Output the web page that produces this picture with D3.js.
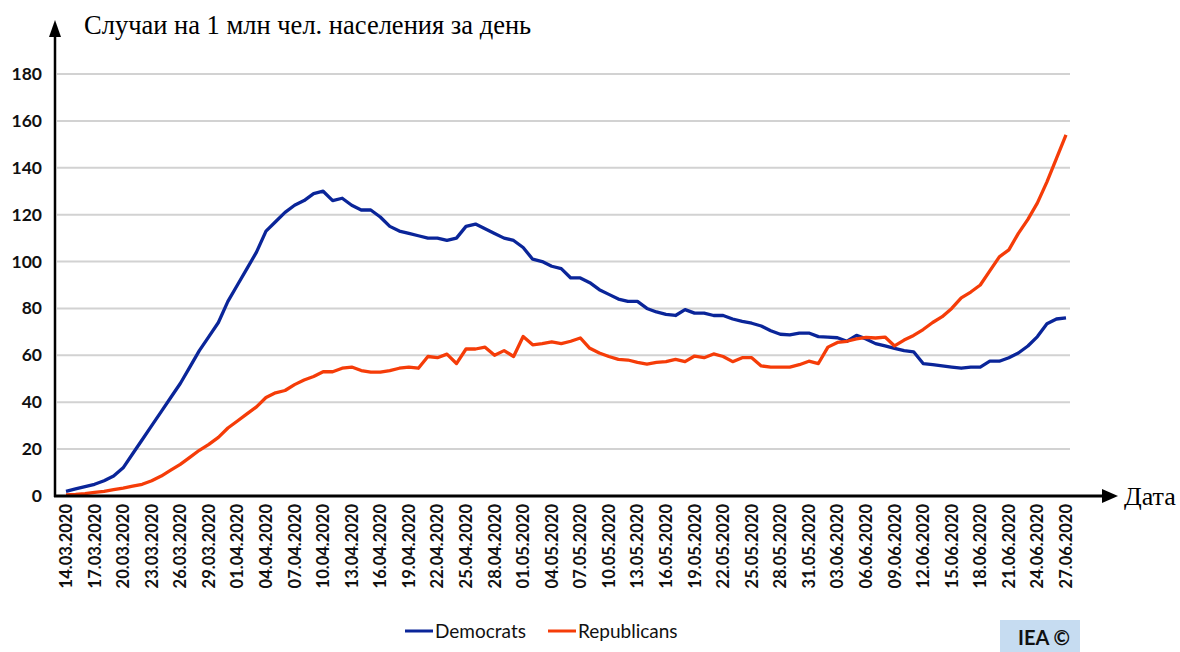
<!DOCTYPE html>
<html>
<head>
<meta charset="utf-8">
<script src="https://cdn.jsdelivr.net/npm/d3@7"></script>
<style>
  body { margin: 0; background: #fff; }
  svg { display: block; }
</style>
</head>
<body>
<div id="chart"></div>
<script>
// data: daily cases per 1M people, 14.03.2020 .. 27.06.2020
const startDate = new Date(2020, 2, 14);
const democrats = [
  2, 3, 4, 5, 6.5, 8.5, 12, 18, 24, 30,
  36, 42, 48, 55, 62, 68, 74, 83, 90, 97,
  104, 113, 117, 121, 124, 126, 129, 130, 126, 127,
  124, 122, 122, 119, 115, 113, 112, 111, 110, 110,
  109, 110, 115, 116, 114, 112, 110, 109, 106, 101,
  100, 98, 97, 93, 93, 91, 88, 86, 84, 83,
  83, 80, 78.5, 77.5, 77, 79.5, 78, 78, 77, 77,
  75.5, 74.5, 73.7, 72.5, 70.5, 69, 68.7, 69.5, 69.5, 68,
  67.8, 67.5, 66, 68.5, 67, 65, 64, 63, 62, 61.5,
  56.5, 56, 55.5, 55, 54.5, 55, 55, 57.5, 57.5, 59,
  61, 64, 68, 73.5, 75.5, 76
];
const republicans = [
  0.5, 0.7, 1, 1.5, 2, 2.7, 3.4, 4.2, 5, 6.5,
  8.5, 11, 13.5, 16.5, 19.5, 22, 25, 29, 32, 35,
  38, 42, 44, 45, 47.5, 49.5, 51, 53, 53, 54.5,
  55, 53.5, 52.8, 52.8, 53.5, 54.5, 55, 54.5, 59.5, 59,
  60.5, 56.5, 62.7, 62.7, 63.5, 60, 62, 59.5, 68, 64.5,
  65, 65.7, 65, 66, 67.4, 63, 61, 59.5, 58.3, 58,
  57, 56.3, 57, 57.3, 58.3, 57.3, 59.7, 59, 60.6, 59.5,
  57.3, 59, 59, 55.5, 55, 55, 55, 56, 57.5, 56.5,
  63.5, 65.5, 66, 67, 67.7, 67.4, 67.8, 64, 66.5, 68.5,
  71, 74, 76.5, 80, 84.5, 87, 90, 96, 102, 105,
  112, 118, 125, 134, 144, 154
];
const yTicks = [0, 20, 40, 60, 80, 100, 120, 140, 160, 180];
const seriesNames = ["Democrats", "Republicans"];
const seriesColors = ["#0a2599", "#f53c08"];

const dates = democrats.map((d, i) => d3.timeDay.offset(startDate, i));
const tickDates = dates.filter((d, i) => i % 3 === 0);

const W = 1180, H = 652;
const svg = d3.select("#chart").append("svg").attr("width", W).attr("height", H);

const x = d3.scaleTime().domain([dates[0], dates[dates.length - 1]]).range([66, 1066]);
const y = d3.scaleLinear().domain([0, 180]).range([496, 74]);

// gridlines
svg.append("g")
  .selectAll("line")
  .data(yTicks.filter(d => d > 0))
  .join("line")
  .attr("x1", 57).attr("x2", 1070)
  .attr("y1", d => y(d)).attr("y2", d => y(d))
  .attr("stroke", "#d2d2d2").attr("stroke-width", 2);

// y tick labels
svg.append("g")
  .selectAll("text")
  .data(yTicks)
  .join("text")
  .attr("x", 42).attr("y", d => y(d) + 6)
  .attr("text-anchor", "end")
  .attr("font-family", "Lato, 'Open Sans', sans-serif")
  .attr("font-weight", 700)
  .attr("font-size", 17.5)
  .attr("fill", "#111")
  .text(d => d);

// x tick labels, rotated
const fmt = d3.timeFormat("%d.%m.%Y");
svg.append("g")
  .selectAll("text")
  .data(tickDates)
  .join("text")
  .attr("transform", d => `translate(${x(d) + 6},504) rotate(-90)`)
  .attr("text-anchor", "end")
  .attr("font-family", "Lato, 'Open Sans', sans-serif")
  .attr("font-weight", 700)
  .attr("font-size", 16.5)
  .attr("fill", "#111")
  .text(d => fmt(d));

// lines
const line = d3.line().x((d, i) => x(dates[i])).y(d => y(d));
[democrats, republicans].forEach((s, k) => {
  svg.append("path")
    .datum(s)
    .attr("d", line)
    .attr("fill", "none")
    .attr("stroke", seriesColors[k])
    .attr("stroke-width", 3.3)
    .attr("stroke-linejoin", "round");
});

// axes with arrows
svg.append("line").attr("x1", 55).attr("x2", 55).attr("y1", 497).attr("y2", 34)
  .attr("stroke", "#000").attr("stroke-width", 2.5);
svg.append("path").attr("d", "M49,37 L55,20 L61,37 Z").attr("fill", "#000");
svg.append("line").attr("x1", 54).attr("x2", 1105).attr("y1", 496).attr("y2", 496)
  .attr("stroke", "#000").attr("stroke-width", 3);
svg.append("path").attr("d", "M1102,489 L1118,496 L1102,503 Z").attr("fill", "#000");

// axis titles
svg.append("text").attr("x", 84).attr("y", 34)
  .attr("font-family", "'Liberation Serif', 'DejaVu Serif', serif")
  .attr("font-size", 26.5).attr("fill", "#000")
  .text("Случаи на 1 млн чел. населения за день");
svg.append("text").attr("x", 1124).attr("y", 505)
  .attr("font-family", "'Liberation Serif', 'DejaVu Serif', serif")
  .attr("font-size", 26).attr("fill", "#000")
  .text("Дата");

// legend
const legend = svg.append("g").attr("transform", "translate(405,631)");
seriesNames.forEach((name, k) => {
  const g = legend.append("g").attr("transform", `translate(${k * 143},0)`);
  g.append("line").attr("x1", 0).attr("x2", 28).attr("y1", 0).attr("y2", 0)
    .attr("stroke", seriesColors[k]).attr("stroke-width", 3);
  g.append("text").attr("x", 30).attr("y", 6.5)
    .attr("font-family", "Lato, 'Open Sans', sans-serif")
    .attr("font-size", 19).attr("fill", "#111")
    .text(name);
});

// source badge
svg.append("rect").attr("x", 1000).attr("y", 620).attr("width", 80).attr("height", 32)
  .attr("fill", "#c6dcf1");
svg.append("text").attr("x", 1018).attr("y", 645)
  .attr("font-family", "Lato, 'Open Sans', sans-serif")
  .attr("font-weight", 700).attr("font-size", 20).attr("fill", "#111")
  .text("IEA ©");
</script>
</body>
</html>
